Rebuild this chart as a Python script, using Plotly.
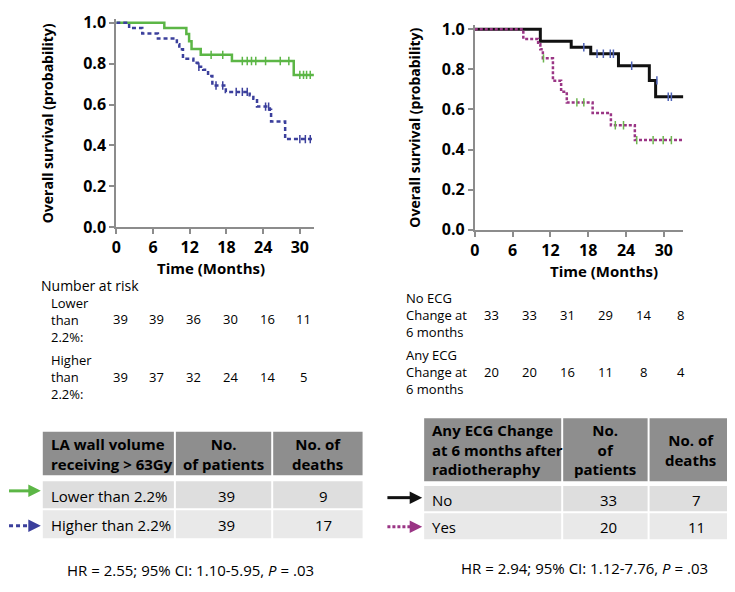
import plotly.graph_objects as go

# page has an 8px body margin, so the figure is drawn 8px in and shrunk to fit
OFF = 8
W, H = 735 - OFF, 592 - OFF
FONT = "Open Sans"

# ---- survival curves ----
lower_t = [0, 7.85, 11.45, 11.9, 12.3, 13.8, 18.9, 29.0, 32.3]
lower_s = [1.0, 0.974, 0.945, 0.91, 0.872, 0.843, 0.813, 0.745, 0.745]
lower_cens_t = [15.5, 17.4, 20.6, 21.4, 22.1, 22.8, 24.4, 26.8, 28.2, 30.0, 30.6, 31.1, 31.7]
lower_cens_s = [0.843, 0.843, 0.813, 0.813, 0.813, 0.813, 0.813, 0.813, 0.813, 0.745, 0.745, 0.745, 0.745]

higher_t = [0, 2.1, 4.25, 6.8, 9.9, 10.3, 10.9, 12.6, 13.3, 14.2, 15.0, 15.7, 17.9, 21.8, 22.4, 23.0, 25.1, 25.3, 27.6, 32.3]
higher_s = [1.0, 0.974, 0.947, 0.923, 0.895, 0.87, 0.824, 0.805, 0.785, 0.77, 0.74, 0.693, 0.662, 0.645, 0.629, 0.59, 0.575, 0.517, 0.431, 0.431]
higher_cens_t = [13.5, 16.3, 17.4, 19.6, 20.6, 21.4, 24.4, 24.9, 30.0, 30.9, 31.7]
higher_cens_s = [0.785, 0.693, 0.693, 0.662, 0.662, 0.662, 0.59, 0.59, 0.431, 0.431, 0.431]

noecg_t = [0, 10.4, 15.3, 18.4, 22.8, 27.7, 28.7, 33.1]
noecg_s = [1.0, 0.94, 0.91, 0.878, 0.818, 0.745, 0.663, 0.663]
noecg_cens_t = [17.3, 19.4, 20.4, 21.5, 22.0, 24.9, 28.9, 30.7, 31.2]
noecg_cens_s = [0.91, 0.878, 0.878, 0.878, 0.878, 0.818, 0.745, 0.663, 0.663]

anyecg_t = [0, 7.7, 10.05, 10.4, 10.8, 12.4, 13.7, 14.6, 18.7, 21.6, 25.4, 33.1]
anyecg_s = [1.0, 0.952, 0.925, 0.9, 0.855, 0.743, 0.688, 0.635, 0.582, 0.521, 0.447, 0.447]
anyecg_cens_t = [10.9, 16.2, 17.3, 22.3, 23.6, 25.7, 28.3, 29.9, 31.2]
anyecg_cens_s = [0.855, 0.635, 0.635, 0.521, 0.521, 0.447, 0.447, 0.447, 0.447]

# ---- number at risk ----
risk_months = [0, 6, 12, 18, 24, 30]
risk_lower = [39, 39, 36, 30, 16, 11]
risk_higher = [39, 37, 32, 24, 14, 5]
risk_noecg = [33, 33, 31, 29, 14, 8]
risk_anyecg = [20, 20, 16, 11, 8, 4]

# ---- summary tables ----
left_header = ["<b>LA wall volume<br>receiving > 63Gy</b>", "<b>No.<br>of patients</b>", "<b>No. of<br>deaths</b>"]
left_groups = ["Lower than 2.2%", "Higher than 2.2%"]
left_patients = [39, 39]
left_deaths = [9, 17]

right_header = ["<b>Any ECG Change<br>at 6 months after<br>radiotheraphy</b>", "<b>No.<br>of<br>patients</b>", "<b>No. of<br>deaths</b>"]
right_groups = ["No", "Yes"]
right_patients = [33, 20]
right_deaths = [7, 11]

GREEN = "#5cb646"
BLUE = "#3b3f9c"
BLACK = "#111111"
MAGENTA = "#9a3585"
CENS_BLUE = "#4f63b8"
CENS_GREEN = "#6db54f"


def px_x(p):
    return (p - OFF) / W


def px_y(p):
    return 1 - (p - OFF) / H


fig = go.Figure()

# left panel
fig.add_trace(go.Scatter(x=lower_t, y=lower_s, mode="lines", line=dict(color=GREEN, width=2.5, shape="hv"),
                         xaxis="x", yaxis="y", showlegend=False))
fig.add_trace(go.Scatter(x=higher_t, y=higher_s, mode="lines", line=dict(color=BLUE, width=2.5, shape="hv", dash="4px,3px"),
                         xaxis="x", yaxis="y", showlegend=False))
fig.add_trace(go.Scatter(x=lower_cens_t, y=lower_cens_s, mode="markers",
                         marker=dict(symbol="line-ns", size=6, line=dict(color=GREEN, width=1.5)),
                         xaxis="x", yaxis="y", showlegend=False))
fig.add_trace(go.Scatter(x=higher_cens_t, y=higher_cens_s, mode="markers",
                         marker=dict(symbol="line-ns", size=6, line=dict(color=BLUE, width=1.5)),
                         xaxis="x", yaxis="y", showlegend=False))

# right panel
fig.add_trace(go.Scatter(x=noecg_t, y=noecg_s, mode="lines", line=dict(color=BLACK, width=3, shape="hv"),
                         xaxis="x2", yaxis="y2", showlegend=False))
fig.add_trace(go.Scatter(x=anyecg_t, y=anyecg_s, mode="lines", line=dict(color=MAGENTA, width=2.5, shape="hv", dash="3px,2px"),
                         xaxis="x2", yaxis="y2", showlegend=False))
fig.add_trace(go.Scatter(x=noecg_cens_t, y=noecg_cens_s, mode="markers",
                         marker=dict(symbol="line-ns", size=6, line=dict(color=CENS_BLUE, width=1.5)),
                         xaxis="x2", yaxis="y2", showlegend=False))
fig.add_trace(go.Scatter(x=anyecg_cens_t, y=anyecg_cens_s, mode="markers",
                         marker=dict(symbol="line-ns", size=6, line=dict(color=CENS_GREEN, width=1.5)),
                         xaxis="x2", yaxis="y2", showlegend=False))

axis_common = dict(showline=True, linecolor="#8c8c8c", linewidth=2, ticks="outside", ticklen=5,
                   tickcolor="#8c8c8c", tickwidth=2, showgrid=False, zeroline=False,
                   tickfont=dict(family=FONT, size=16, color="black", weight="bold"))

fig.update_layout(
    width=W, height=H, margin=dict(l=0, r=0, t=0, b=0),
    paper_bgcolor="white", plot_bgcolor="white",
    font=dict(family=FONT, color="black"),
    xaxis=dict(domain=[px_x(112), px_x(311)], range=[0, 32.3], tickvals=risk_months, anchor="y", **axis_common),
    yaxis=dict(domain=[px_y(227), px_y(11.8)], range=[0, 1.02], tickvals=[0, 0.2, 0.4, 0.6, 0.8, 1.0],
               tickformat=".1f", anchor="x", **axis_common),
    xaxis2=dict(domain=[px_x(473), px_x(683)], range=[0, 33.1], tickvals=risk_months, anchor="y2", **axis_common),
    yaxis2=dict(domain=[px_y(229.5), px_y(18.6)], range=[0, 1.02], tickvals=[0, 0.2, 0.4, 0.6, 0.8, 1.0],
                tickformat=".1f", anchor="x2", **axis_common),
)

ann = []
title_font = dict(family=FONT, size=15, color="black", weight="bold")
ytitle_font = dict(family=FONT, size=14, color="black", weight="bold")
ann.append(dict(text="Overall survival (probability)", x=px_x(43), y=px_y(120), textangle=-90, font=ytitle_font))
ann.append(dict(text="Time (Months)", x=px_x(207), y=px_y(269), font=title_font))
ann.append(dict(text="Overall survival (probability)", x=px_x(412), y=px_y(124), textangle=-90, font=ytitle_font))
ann.append(dict(text="Time (Months)", x=px_x(603), y=px_y(272), font=title_font))

body = dict(family=FONT, size=13, color="black")
ann.append(dict(text="Number at risk", x=px_x(34), y=px_y(287), xanchor="left", font=dict(family=FONT, size=14, color="black")))
ann.append(dict(text="Lower<br>than<br>2.2%:", x=px_x(44), y=px_y(323), xanchor="left", align="left", font=body))
ann.append(dict(text="Higher<br>than<br>2.2%:", x=px_x(44), y=px_y(381), xanchor="left", align="left", font=body))
ann.append(dict(text="No ECG<br>Change at<br>6 months", x=px_x(402), y=px_y(318), xanchor="left", align="left", font=body))
ann.append(dict(text="Any ECG<br>Change at<br>6 months", x=px_x(402), y=px_y(376), xanchor="left", align="left", font=body))

for m, a, b in zip(risk_months, risk_lower, risk_higher):
    ann.append(dict(text=str(a), x=m, xref="x", y=px_y(322), yref="paper", xshift=4, font=body))
    ann.append(dict(text=str(b), x=m, xref="x", y=px_y(381), yref="paper", xshift=4, font=body))
for m, a, b in zip(risk_months, risk_noecg, risk_anyecg):
    ann.append(dict(text=str(a), x=m, xref="x2", y=px_y(318), yref="paper", xshift=17, font=body))
    ann.append(dict(text=str(b), x=m, xref="x2", y=px_y(376), yref="paper", xshift=17, font=body))

# summary tables
shapes = []
HEAD = "#8e8e8e"
ROWS = ["#dedede", "#e9e9e9"]
cell_font = dict(family=FONT, size=15, color="black")
head_font = dict(family=FONT, size=15, color="black")


def draw_table(cols, head_top, head_bot, rows_y, header, groups, patients, deaths):
    for i in range(3):
        shapes.append(dict(type="rect", xref="paper", yref="paper", x0=px_x(cols[i] + 1), x1=px_x(cols[i + 1] - 1),
                           y0=px_y(head_bot), y1=px_y(head_top), fillcolor=HEAD, line=dict(width=0), layer="below"))
        for r, (t0, t1) in enumerate(rows_y):
            shapes.append(dict(type="rect", xref="paper", yref="paper", x0=px_x(cols[i] + 1), x1=px_x(cols[i + 1] - 1),
                               y0=px_y(t1), y1=px_y(t0), fillcolor=ROWS[r], line=dict(width=0), layer="below"))
    hy = (head_top + head_bot) / 2
    ann.append(dict(text=header[0], x=px_x(cols[0] + 7), y=px_y(hy), xanchor="left", align="left", font=head_font))
    ann.append(dict(text=header[1], x=px_x((cols[1] + cols[2]) / 2), y=px_y(hy), align="center", font=head_font))
    ann.append(dict(text=header[2], x=px_x((cols[2] + cols[3]) / 2), y=px_y(hy), align="center", font=head_font))
    for r, (t0, t1) in enumerate(rows_y):
        ry = (t0 + t1) / 2 + 1
        ann.append(dict(text=groups[r], x=px_x(cols[0] + 7), y=px_y(ry), xanchor="left", font=cell_font))
        ann.append(dict(text=str(patients[r]), x=px_x((cols[1] + cols[2]) / 2 + 3), y=px_y(ry), font=cell_font))
        ann.append(dict(text=str(deaths[r]), x=px_x((cols[2] + cols[3]) / 2 + 6), y=px_y(ry), font=cell_font))


draw_table([37, 171, 269, 361], 438, 483, [(489, 517), (519, 548)], left_header, left_groups, left_patients, left_deaths)
draw_table([421, 561, 648, 732], 424, 489, [(494, 520), (522, 549)], right_header, right_groups, right_patients, right_deaths)

hr_font = dict(family=FONT, size=15, color="black")
ann.append(dict(text="HR = 2.55; 95% CI: 1.10-5.95, <i>P</i> = .03", x=px_x(187), y=px_y(581), font=hr_font))
ann.append(dict(text="HR = 2.94; 95% CI: 1.12-7.76, <i>P</i> = .03", x=px_x(583), y=px_y(579), font=hr_font))

# legend arrows beside the tables
shapes.append(dict(type="line", xref="paper", yref="paper", x0=px_x(4), x1=px_x(30), y0=px_y(499), y1=px_y(499),
                   line=dict(color=GREEN, width=3)))
shapes.append(dict(type="line", xref="paper", yref="paper", x0=px_x(4), x1=px_x(30), y0=px_y(535), y1=px_y(535),
                   line=dict(color=BLUE, width=3, dash="4px,3px")))
shapes.append(dict(type="line", xref="paper", yref="paper", x0=px_x(385), x1=px_x(414), y0=px_y(506), y1=px_y(506),
                   line=dict(color=BLACK, width=3)))
shapes.append(dict(type="line", xref="paper", yref="paper", x0=px_x(385), x1=px_x(414), y0=px_y(536), y1=px_y(536),
                   line=dict(color=MAGENTA, width=3, dash="3px,2px")))
for hx, hy, col in [(36, 499, GREEN), (36, 535, BLUE), (420, 506, BLACK), (420, 536, MAGENTA)]:
    ann.append(dict(text="", x=px_x(hx), y=px_y(hy), showarrow=True, ax=-8, ay=0, arrowhead=2,
                    arrowsize=1, arrowwidth=2.5, arrowcolor=col))

for a in ann:
    a.setdefault("xref", "paper")
    a.setdefault("yref", "paper")
    a.setdefault("showarrow", False)
    a.setdefault("xanchor", "center")
    a.setdefault("yanchor", "middle")

fig.update_layout(annotations=ann, shapes=shapes)

fig.write_html("out.html")
